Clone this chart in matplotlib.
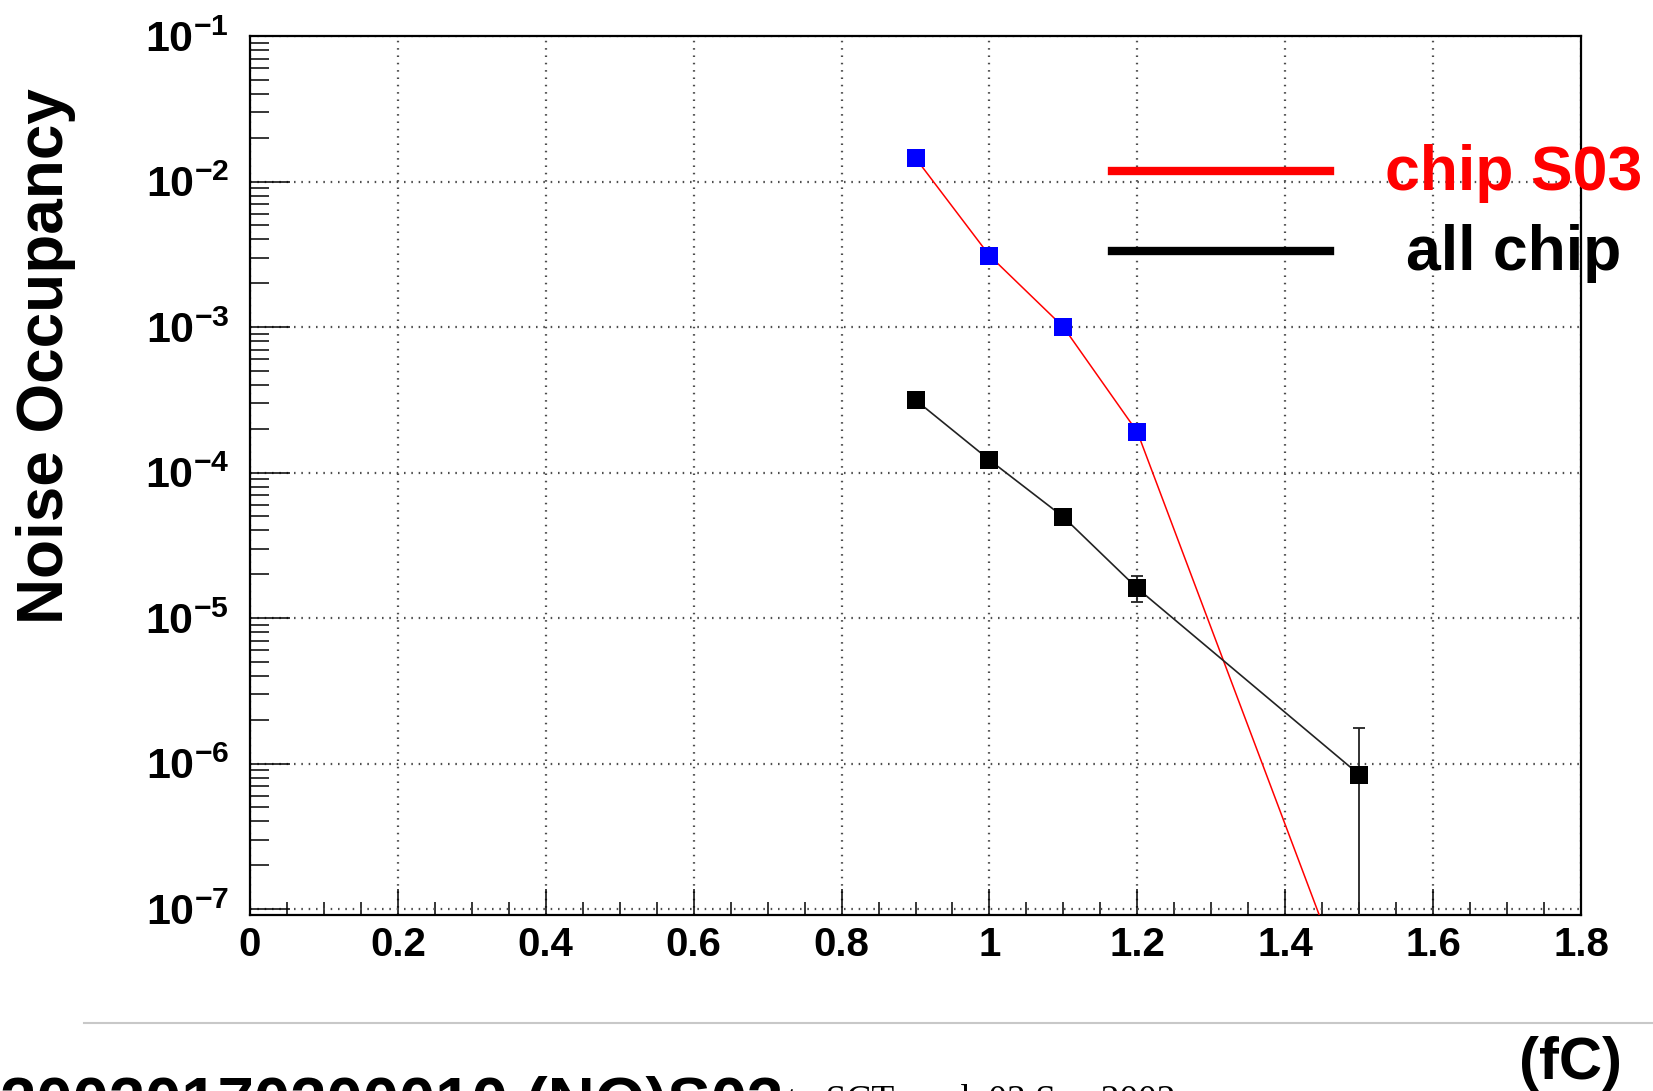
import numpy as np
import matplotlib
matplotlib.use('Agg')
import matplotlib.pyplot as plt
from matplotlib.ticker import FixedLocator, LogLocator, NullFormatter, FuncFormatter
from matplotlib.lines import Line2D

plt.rcParams['font.family'] = ['Liberation Sans', 'DejaVu Sans']
plt.rcParams['mathtext.fontset'] = 'custom'
plt.rcParams['mathtext.rm'] = 'Liberation Sans:bold'
plt.rcParams['mathtext.it'] = 'Liberation Sans:bold'
plt.rcParams['mathtext.bf'] = 'Liberation Sans:bold'

# chip S03 (bleu / ligne rouge)
x_s03 = [0.9, 1.0, 1.1, 1.2, 1.5]
y_s03 = [1.45e-2, 3.1e-3, 1.0e-3, 1.9e-4, 1.7e-8]

# all chip (noir, avec erreurs)
x_all = [0.9, 1.0, 1.1, 1.2, 1.5]
y_all = [3.15e-4, 1.22e-4, 4.95e-5, 1.6e-5, 8.4e-7]
err_low = [1.0e-5, 5.0e-6, 6.0e-6, 3.2e-6, 8.3e-7]
err_high = [1.0e-5, 5.0e-6, 6.0e-6, 3.6e-6, 9.1e-7]

x_ticks = [0, 0.2, 0.4, 0.6, 0.8, 1.0, 1.2, 1.4, 1.6, 1.8]
y_ticks = [1e-7, 1e-6, 1e-5, 1e-4, 1e-3, 1e-2, 1e-1]

fig = plt.figure(figsize=(16.53, 10.91), dpi=100)
ax = fig.add_axes([250/1653, 1-915/1091, 1331/1653, 879/1091])

ax.set_yscale('log')
ax.set_xlim(0, 1.8)
ax.set_ylim(9.1e-8, 1e-1)

# grille pointillee
ax.grid(True, which='major', color='0.3', linestyle=(0, (0.7, 2.6)), linewidth=1.6)
ax.set_axisbelow(True)

ax.plot(x_s03, y_s03, color='red', linewidth=1.1, zorder=3)
ax.plot(x_s03, y_s03, linestyle='none', marker='s', markersize=13.5,
        color='blue', markeredgewidth=0, zorder=5)

ax.errorbar(x_all, y_all, yerr=[err_low, err_high], color='#222222', linewidth=1.2,
            elinewidth=1.3, capsize=4, capthick=1.3, zorder=4)
ax.plot(x_all, y_all, linestyle='none', marker='s', markersize=13.5,
        color='black', markeredgewidth=0, zorder=6)

# axes
for s in ax.spines.values():
    s.set_linewidth(1.6)
ax.xaxis.set_major_locator(FixedLocator(x_ticks))
ax.xaxis.set_minor_locator(FixedLocator(np.arange(0, 1.81, 0.05)))
ax.xaxis.set_major_formatter(FuncFormatter(lambda v, p: '%g' % round(v, 1)))
ax.yaxis.set_major_locator(FixedLocator(y_ticks))
ax.yaxis.set_minor_locator(LogLocator(base=10, subs=np.arange(2, 10)))
ax.yaxis.set_minor_formatter(NullFormatter())
ax.yaxis.set_major_formatter(FuncFormatter(lambda v, p: r'$10^{%d}$' % round(np.log10(v))))

ax.tick_params(axis='x', which='major', direction='in', length=19, width=1.1,
               labelsize=29, pad=8, top=False)
ax.tick_params(axis='x', which='minor', direction='in', length=9.5, width=1.1, top=False)
ax.tick_params(axis='y', which='major', direction='in', length=29, width=1.1,
               labelsize=31, pad=15, right=False)
ax.tick_params(axis='y', which='minor', direction='in', length=14, width=1.1, right=False)
for lab in ax.get_xticklabels() + ax.get_yticklabels():
    lab.set_fontweight('bold')

ax.set_ylabel('Noise Occupancy', fontsize=46, fontweight='bold')
ax.yaxis.set_label_coords(-0.131, 0.636)
ax.set_xlabel('(fC)', fontsize=43, fontweight='bold')
ax.xaxis.set_label_coords(0.992, -0.138)

# legende
fig.add_artist(Line2D([1112/1653, 1330/1653], [1-171/1091, 1-171/1091],
                      color='red', linewidth=6, transform=fig.transFigure))
fig.add_artist(Line2D([1112/1653, 1330/1653], [1-251/1091, 1-251/1091],
                      color='black', linewidth=6, transform=fig.transFigure))
fig.text(1514/1653, 1-190/1091, 'chip S03', color='red', fontsize=45,
         fontweight='bold', ha='center', va='baseline')
fig.text(1514/1653, 1-270/1091, 'all chip', color='black', fontsize=45,
         fontweight='bold', ha='center', va='baseline')

# pied de page
fig.add_artist(Line2D([84/1653, 1.0], [1-1023/1091, 1-1023/1091],
                      color='#c8c8c8', linewidth=1.5, transform=fig.transFigure))
fig.text(0.0, 1-1123/1091, '20020170200010 (NO)S03', fontsize=47,
         fontweight='bold', ha='left', va='baseline')
fig.text(787/1653, 1-1111/1091, 't   SCT mod  03 Sep 2002', fontsize=27,
         family='Liberation Serif', ha='left', va='baseline')

fig.savefig('out.png', dpi=100)
